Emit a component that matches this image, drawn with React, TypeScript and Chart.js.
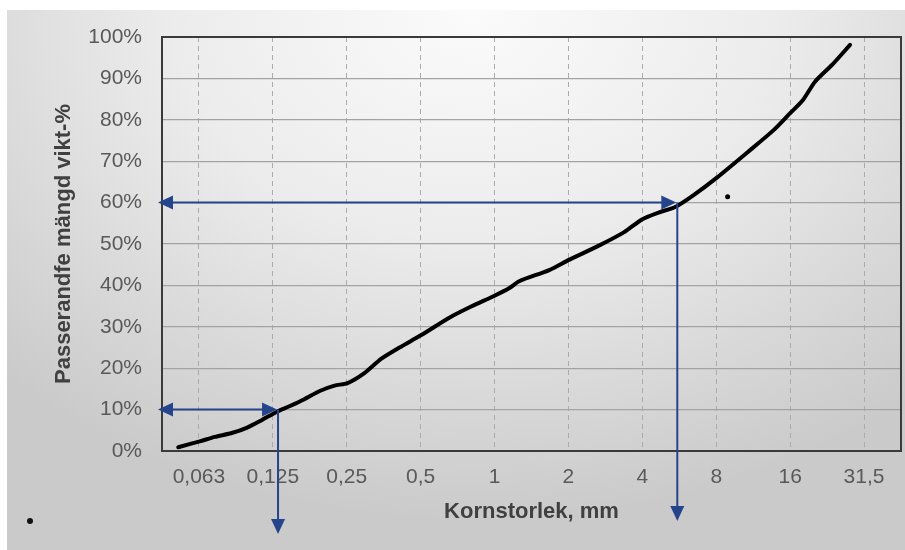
import React, { useEffect, useRef } from "react";
import { Chart, registerables } from "chart.js";

Chart.register(...registerables);

// Sieve sizes (mm) and their axis labels, equally spaced on the x axis
const sieveSizes = [0.063, 0.125, 0.25, 0.5, 1, 2, 4, 8, 16, 31.5];
const sieveLabels = ["0,063", "0,125", "0,25", "0,5", "1", "2", "4", "8", "16", "31,5"];

// Grading curve: grain size (mm) and passing amount (weight-%)
const curveSize = [
  0.052, 0.064, 0.073, 0.086, 0.098, 0.113, 0.13, 0.146, 0.168, 0.194,
  0.223, 0.252, 0.295, 0.346, 0.41, 0.503, 0.654, 0.803, 1.0, 1.146,
  1.26, 1.67, 2.0, 2.66, 3.36, 4.0, 4.66, 5.47, 6.47, 8.0,
  10.8, 13.7, 16, 18.0, 20.1, 23.7, 27.7,
];
const curvePassing = [
  0.9, 2.4, 3.4, 4.4, 5.6, 7.5, 9.5, 10.8, 12.5, 14.5,
  15.8, 16.4, 18.8, 22.3, 25.0, 28.0, 32.2, 34.9, 37.5, 39.3,
  41.0, 43.7, 46.1, 49.6, 52.8, 56.0, 57.6, 59.0, 61.8, 65.9,
  72.3, 77.5, 81.6, 84.8, 89.2, 93.5, 98.1,
];

// Read-off lines: passing level (%) and the grain size it corresponds to (mm)
const readoffPassing = [10, 60];
const readoffSize = [0.13, 5.5];
// How far below the plot the downward arrows reach (px)
const readoffDrop = [83, 70];

// Stray marker inside the plot
const strayDotSize = [8.9];
const strayDotPassing = [61.4];

const yTicks = [0, 10, 20, 30, 40, 50, 60, 70, 80, 90, 100];

const FONT = "'Liberation Sans', Arial, Helvetica, sans-serif";
const ARROW_COLOR = "#24458c";

// Position of a grain size on the sieve axis (0 = first sieve, 1 = second, ...)
function sizeToPos(mm: number): number {
  const s = sieveSizes;
  if (mm <= s[0]) return Math.log(mm / s[0]) / Math.log(s[1] / s[0]);
  let i = 0;
  while (i < s.length - 2 && mm > s[i + 1]) i++;
  return i + Math.log(mm / s[i]) / Math.log(s[i + 1] / s[i]);
}

function arrowHead(
  ctx: CanvasRenderingContext2D,
  tipX: number,
  tipY: number,
  dx: number,
  dy: number,
  len: number,
  half: number
) {
  const bx = tipX - dx * len;
  const by = tipY - dy * len;
  ctx.beginPath();
  ctx.moveTo(tipX, tipY);
  ctx.lineTo(bx - dy * half, by + dx * half);
  ctx.lineTo(bx + dy * half, by - dx * half);
  ctx.closePath();
  ctx.fill();
}

const framePlugin = {
  id: "plotFrame",
  beforeDatasetsDraw(chart: any) {
    const { ctx, chartArea } = chart;
    ctx.save();
    ctx.strokeStyle = "#3a3a3a";
    ctx.lineWidth = 2;
    ctx.strokeRect(
      chartArea.left,
      chartArea.top,
      chartArea.right - chartArea.left,
      chartArea.bottom - chartArea.top
    );
    ctx.restore();
  },
};

const readoffPlugin = {
  id: "readoffArrows",
  afterDatasetsDraw(chart: any) {
    const { ctx, chartArea } = chart;
    const xs = chart.scales.x;
    const ys = chart.scales.y;
    const len = 15;
    const half = 7;
    ctx.save();
    ctx.strokeStyle = ARROW_COLOR;
    ctx.fillStyle = ARROW_COLOR;
    ctx.lineWidth = 2;
    readoffPassing.forEach((p, i) => {
      const px = xs.getPixelForValue(sizeToPos(readoffSize[i]));
      const py = ys.getPixelForValue(p);
      const leftTip = chartArea.left - 4;
      const bottomTip = chartArea.bottom + readoffDrop[i];
      // horizontal double arrow from the axis to the curve
      ctx.beginPath();
      ctx.moveTo(leftTip + len - 2, py);
      ctx.lineTo(px - len + 2, py);
      ctx.stroke();
      arrowHead(ctx, leftTip, py, -1, 0, len, half);
      arrowHead(ctx, px, py, 1, 0, len, half);
      // vertical arrow down to the size axis
      ctx.beginPath();
      ctx.moveTo(px + 1, py);
      ctx.lineTo(px + 1, bottomTip - len + 2);
      ctx.stroke();
      arrowHead(ctx, px + 1, bottomTip, 0, 1, len, half);
    });
    ctx.restore();
  },
};

export default function App() {
  const canvasRef = useRef<HTMLCanvasElement | null>(null);

  useEffect(() => {
    if (!canvasRef.current) return;
    const chart = new Chart(canvasRef.current, {
      type: "line",
      data: {
        datasets: [
          {
            label: "Passerande mängd",
            data: curveSize.map((s, i) => ({ x: sizeToPos(s), y: curvePassing[i] })),
            borderColor: "#000000",
            borderWidth: 4,
            pointRadius: 0,
            tension: 0.25,
            borderCapStyle: "round",
            borderJoinStyle: "round",
            fill: false,
          },
          {
            label: "punkt",
            type: "scatter",
            data: strayDotSize.map((s, i) => ({ x: sizeToPos(s), y: strayDotPassing[i] })),
            pointRadius: 2.5,
            pointBackgroundColor: "#000000",
            pointBorderWidth: 0,
            showLine: false,
          },
        ] as any,
      },
      options: {
        animation: false,
        responsive: false,
        events: [],
        layout: { padding: { left: 0, top: 37, right: 2, bottom: 0 } },
        plugins: {
          legend: { display: false },
          tooltip: { enabled: false },
        },
        scales: {
          x: {
            type: "linear",
            min: -0.5,
            max: sieveSizes.length - 0.5,
            afterBuildTicks: (scale: any) => {
              scale.ticks = sieveLabels.map((_, i) => ({ value: i }));
            },
            afterFit: (scale: any) => {
              scale.height = 99;
            },
            ticks: {
              autoSkip: false,
              maxRotation: 0,
              padding: 14,
              color: "#595959",
              font: { family: FONT, size: 21 },
              callback: (v: any) => sieveLabels[Math.round(Number(v))] ?? "",
            },
            grid: { color: "#ababab", lineWidth: 1, drawTicks: false },
            border: { display: false, dash: [5, 4] },
            title: {
              display: true,
              text: "Kornstorlek, mm",
              color: "#404040",
              font: { family: FONT, size: 22, weight: "bold" },
              padding: { top: 0, bottom: 25 },
            },
          },
          y: {
            type: "linear",
            min: 0,
            max: 100,
            afterBuildTicks: (scale: any) => {
              scale.ticks = yTicks.map((v) => ({ value: v }));
            },
            afterFit: (scale: any) => {
              scale.width = 162;
            },
            ticks: {
              padding: 20,
              color: "#595959",
              font: { family: FONT, size: 21 },
              callback: (v: any) => `${v}%`,
            },
            grid: { color: "#a3a3a3", lineWidth: 1.2, drawTicks: false },
            border: { display: false },
            title: {
              display: true,
              text: "Passerandfe mängd vikt-%",
              color: "#404040",
              font: { family: FONT, size: 22, weight: "bold" },
              padding: { top: 51, bottom: 0 },
            },
          },
        },
      } as any,
      plugins: [framePlugin, readoffPlugin],
    });
    return () => chart.destroy();
  }, []);

  return (
    <div
      style={{
        position: "fixed",
        left: 0,
        top: 0,
        width: 905,
        height: 550,
        background: "#ffffff",
        overflow: "hidden",
      }}
    >
      <div
        style={{
          position: "absolute",
          left: 7,
          top: 10,
          right: 0,
          bottom: 0,
          background:
            "radial-gradient(ellipse 75% 95% at 52% 0%, #fbfbfb 0%, #ececec 45%, #d6d6d6 80%, #cacaca 100%)",
        }}
      />
      <div
        style={{
          position: "absolute",
          left: 27,
          top: 518,
          width: 6,
          height: 6,
          borderRadius: "50%",
          background: "#111111",
        }}
      />
      <canvas
        ref={canvasRef}
        width={905}
        height={550}
        style={{ position: "absolute", left: 0, top: 0, width: 905, height: 550 }}
      />
    </div>
  );
}
